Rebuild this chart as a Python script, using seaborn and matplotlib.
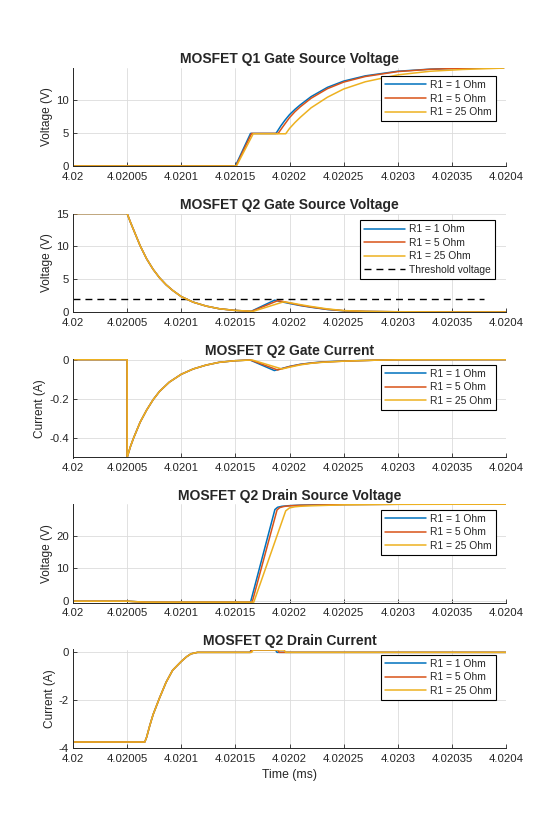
import matplotlib

matplotlib.use("Agg")

import matplotlib.pyplot as plt
import pandas as pd
import seaborn as sns

# simulation traces, time in ms
LABELS = ["R1 = 1 Ohm", "R1 = 5 Ohm", "R1 = 25 Ohm"]
COLORS = ["#0072BD", "#D95319", "#EDB120"]

# Q1 gate-source voltage
q1_t_r1 = [4.02, 4.02015, 4.020164, 4.0201875, 4.020192, 4.020196, 4.0202, 4.020205, 4.02021,
           4.02022, 4.020235, 4.02025, 4.02027, 4.0203, 4.02033, 4.02036, 4.020398]
q1_v_r1 = [0, 0, 4.95, 4.95, 6.1, 7.0, 7.8, 8.6, 9.3, 10.55, 11.95, 12.9, 13.7, 14.4, 14.72,
           14.87, 14.95]
q1_t_r5 = [4.02, 4.0201505, 4.020165, 4.0201895, 4.020194, 4.020198, 4.0202, 4.020205, 4.02021,
           4.02022, 4.020235, 4.02025, 4.02027, 4.0203, 4.02033, 4.02036, 4.020398]
q1_v_r5 = [0, 0, 4.95, 4.95, 6.0, 6.9, 7.35, 8.25, 9.0, 10.3, 11.75, 12.75, 13.6, 14.35, 14.7,
           14.86, 14.95]
q1_t_r25 = [4.02, 4.020151, 4.0201665, 4.0201965, 4.0202, 4.020205, 4.02021, 4.02022, 4.020235,
            4.02025, 4.02027, 4.0203, 4.02033, 4.02036, 4.020398]
q1_v_r25 = [0, 0, 4.9, 4.9, 5.7, 6.6, 7.4, 8.85, 10.45, 11.7, 12.8, 13.85, 14.4, 14.67, 14.88]

# Q2 gate-source voltage (shared discharge, then per-R1 bump)
vgs_t_head = [4.02, 4.02005, 4.020053, 4.020056, 4.020062, 4.020068, 4.020074, 4.02008, 4.020086,
              4.020092, 4.0201, 4.020111, 4.020123, 4.020135, 4.020149]
vgs_v_head = [15, 15, 13.7, 12.5, 10.1, 8.1, 6.5, 5.2, 4.15, 3.3, 2.35, 1.5, 0.9, 0.5, 0.25]
vgs_t_r1 = [4.0201645, 4.0201862, 4.02019, 4.0202, 4.02021, 4.02022, 4.020235, 4.02025, 4.02027,
            4.0203, 4.02035, 4.0204]
vgs_v_r1 = [0.1, 1.8, 1.65, 1.3, 0.98, 0.72, 0.38, 0.18, 0.08, 0.03, 0.005, 0]
vgs_t_r5 = [4.020165, 4.020189, 4.020192, 4.0202, 4.02021, 4.02022, 4.020235, 4.02025, 4.02027,
            4.0203, 4.02035, 4.0204]
vgs_v_r5 = [0.1, 1.72, 1.66, 1.38, 1.03, 0.76, 0.41, 0.2, 0.09, 0.03, 0.005, 0]
vgs_t_r25 = [4.0201665, 4.0201945, 4.0202, 4.02021, 4.02022, 4.020235, 4.02025, 4.02027, 4.0203,
             4.02035, 4.0204]
vgs_v_r25 = [0.1, 1.55, 1.42, 1.12, 0.84, 0.47, 0.22, 0.1, 0.04, 0.007, 0]
thr_t = [4.02, 4.02038]
thr_v = [2, 2]

# Q2 gate current
ig_t_head = [4.02, 4.02005, 4.02005, 4.020053, 4.020056, 4.020059, 4.020062, 4.020068, 4.020074,
             4.02008, 4.020089, 4.0201, 4.020111, 4.020123, 4.020135, 4.020149]
ig_v_head = [0, 0, -0.5, -0.445, -0.4, -0.36, -0.32, -0.258, -0.205, -0.162, -0.115, -0.075,
             -0.048, -0.028, -0.014, -0.006]
ig_t_r1 = [4.0201635, 4.020186, 4.02019, 4.0202, 4.02021, 4.02022, 4.02023, 4.02025, 4.02028,
           4.0203, 4.02035, 4.0204]
ig_v_r1 = [-0.002, -0.056, -0.05, -0.035, -0.024, -0.017, -0.012, -0.007, -0.003, -0.001, 0, 0]
ig_t_r5 = [4.020164, 4.020189, 4.020192, 4.0202, 4.02021, 4.02022, 4.02023, 4.02025, 4.02028,
           4.0203, 4.02035, 4.0204]
ig_v_r5 = [-0.002, -0.053, -0.048, -0.036, -0.025, -0.018, -0.013, -0.008, -0.003, -0.001, 0, 0]
ig_t_r25 = [4.0201655, 4.020193, 4.0202, 4.02021, 4.02022, 4.02023, 4.02025, 4.02028, 4.0203,
            4.02035, 4.0204]
ig_v_r25 = [-0.002, -0.048, -0.039, -0.027, -0.019, -0.014, -0.008, -0.003, -0.001, 0, 0]

# Q2 drain-source voltage
vds_t_head = [4.02, 4.02005, 4.020058, 4.020068]
vds_v_head = [-0.05, -0.05, -0.2, -0.35]
vds_t_r1 = [4.020164, 4.0201865, 4.020189, 4.020193, 4.0202, 4.02021, 4.02025, 4.0203, 4.0204]
vds_v_r1 = [-0.35, 28.0, 28.7, 29.0, 29.2, 29.35, 29.55, 29.63, 29.65]
vds_t_r5 = [4.0201655, 4.0201885, 4.020191, 4.020195, 4.0202, 4.02021, 4.02025, 4.0203, 4.0204]
vds_v_r5 = [-0.35, 27.9, 28.6, 28.95, 29.15, 29.3, 29.52, 29.62, 29.65]
vds_t_r25 = [4.020167, 4.0201965, 4.0202, 4.020205, 4.02021, 4.02022, 4.02025, 4.0203, 4.0204]
vds_v_r25 = [-0.35, 27.6, 28.5, 28.85, 29.0, 29.15, 29.45, 29.6, 29.65]

# Q2 drain current
id_t_head = [4.02, 4.0200663, 4.020068, 4.020071, 4.020074, 4.020077, 4.02008, 4.020086, 4.020092,
             4.0201, 4.020105, 4.020109, 4.020115]
id_v_head = [-3.75, -3.75, -3.55, -3.05, -2.6, -2.25, -1.9, -1.25, -0.75, -0.38, -0.18, -0.06, 0]
id_t_r1 = [4.0201635, 4.0201645, 4.020187, 4.0201885, 4.0204]
id_v_r1 = [0, 0.1, 0.1, 0, 0]
id_t_r5 = [4.020164, 4.020165, 4.020189, 4.0201905, 4.0204]
id_v_r5 = [0, 0.1, 0.1, 0, 0]
id_t_r25 = [4.020165, 4.0201665, 4.020195, 4.0201965, 4.0204]
id_v_r25 = [0, 0.1, 0.1, 0, 0]

XTICKS = [4.02, 4.02005, 4.0201, 4.02015, 4.0202, 4.02025, 4.0203, 4.02035, 4.0204]
XTICKLABELS = ["4.02", "4.02005", "4.0201", "4.02015", "4.0202", "4.02025", "4.0203", "4.02035", "4.0204"]

sns.set_theme(style="whitegrid")
plt.rcParams["font.family"] = ["Liberation Sans", "DejaVu Sans"]
plt.rcParams["axes.unicode_minus"] = False

LEGEND_KW = dict(loc="upper right", fontsize=7.4, frameon=True, fancybox=False, framealpha=1,
                 edgecolor="black", handlelength=4.0, handletextpad=0.4, labelspacing=0.35,
                 borderpad=0.4, borderaxespad=0)


def traces(series):
    frames = []
    for label, (t, v) in zip(LABELS, series):
        frames.append(pd.DataFrame({"t": t, "v": v, "R1": label}))
    return pd.concat(frames, ignore_index=True)


def panel(ax, df, title, ylabel, ylim, yticks, yticklabels, legend_top):
    sns.lineplot(data=df, x="t", y="v", hue="R1", hue_order=LABELS, palette=COLORS,
                 estimator=None, sort=False, linewidth=1.1, ax=ax)
    ax.set_xlim(4.02, 4.0204)
    ax.set_ylim(*ylim)
    ax.set_xticks(XTICKS, XTICKLABELS)
    ax.set_yticks(yticks, yticklabels)
    ax.set_title(title, fontsize=10, fontweight="bold", pad=3)
    ax.set_xlabel("")
    ax.set_ylabel(ylabel, fontsize=8.6, labelpad=2)
    ax.tick_params(axis="both", direction="in", length=3, width=0.6, labelsize=8.2,
                   colors="#262626", left=True, bottom=True)
    ax.tick_params(axis="x", pad=4)
    ax.tick_params(axis="y", pad=3)
    ax.grid(True, color="#dcdcdc", linewidth=0.6)
    ax.set_facecolor("white")
    for side in ("top", "right"):
        ax.spines[side].set_visible(False)
    for side in ("left", "bottom"):
        ax.spines[side].set_visible(True)
        ax.spines[side].set_color("#262626")
        ax.spines[side].set_linewidth(0.7)
    handles, labels = ax.get_legend_handles_labels()
    leg = ax.legend(handles, labels, bbox_to_anchor=(0.977, legend_top), **LEGEND_KW)
    leg.get_frame().set_linewidth(0.8)


fig = plt.figure(figsize=(5.6, 8.4), dpi=100)
W, H = 560, 840
left, width, height = 73, 433, 98.5
bottoms = [166, 312, 457.5, 602.5, 748]
axes = [fig.add_axes([left / W, 1 - b / H, width / W, height / H]) for b in bottoms]

panel(axes[0], traces([(q1_t_r1, q1_v_r1), (q1_t_r5, q1_v_r5), (q1_t_r25, q1_v_r25)]),
      "MOSFET Q1 Gate Source Voltage", "Voltage (V)", (0, 14.97), [0, 5, 10], ["0", "5", "10"], 0.914)

vgs = traces([(vgs_t_head + vgs_t_r1, vgs_v_head + vgs_v_r1),
              (vgs_t_head + vgs_t_r5, vgs_v_head + vgs_v_r5),
              (vgs_t_head + vgs_t_r25, vgs_v_head + vgs_v_r25)])
sns.lineplot(x=thr_t, y=thr_v, color="black", linewidth=1.0, dashes=False, ax=axes[1],
             label="Threshold voltage", zorder=1).lines[-1].set_dashes((5, 3.6))
panel(axes[1], vgs, "MOSFET Q2 Gate Source Voltage", "Voltage (V)", (0, 15),
      [0, 5, 10, 15], ["0", "5", "10", "15"], 0.934)
# keep the threshold entry last in the legend, as in the original
h, l = axes[1].get_legend_handles_labels()
order = [l.index(x) for x in LABELS] + [l.index("Threshold voltage")]
leg = axes[1].legend([h[i] for i in order], [l[i] for i in order],
                     bbox_to_anchor=(0.975, 0.934), **LEGEND_KW)
leg.get_frame().set_linewidth(0.8)

ig = traces([(ig_t_head + ig_t_r1, ig_v_head + ig_v_r1),
             (ig_t_head + ig_t_r5, ig_v_head + ig_v_r5),
             (ig_t_head + ig_t_r25, ig_v_head + ig_v_r25)])
panel(axes[2], ig, "MOSFET Q2 Gate Current", "Current (A)", (-0.5, 0.003),
      [-0.4, -0.2, 0], ["-0.4", "-0.2", "0"], 0.944)

vds = traces([(vds_t_head + vds_t_r1, vds_v_head + vds_v_r1),
              (vds_t_head + vds_t_r5, vds_v_head + vds_v_r5),
              (vds_t_head + vds_t_r25, vds_v_head + vds_v_r25)])
panel(axes[3], vds, "MOSFET Q2 Drain Source Voltage", "Voltage (V)", (-0.45, 29.7),
      [0, 10, 20], ["0", "10", "20"], 0.943)

idr = traces([(id_t_head + id_t_r1, id_v_head + id_v_r1),
              (id_t_head + id_t_r5, id_v_head + id_v_r5),
              (id_t_head + id_t_r25, id_v_head + id_v_r25)])
panel(axes[4], idr, "MOSFET Q2 Drain Current", "Current (A)", (-4, 0.12),
      [-4, -2, 0], ["-4", "-2", "0"], 0.949)
axes[4].set_xlabel("Time (ms)", fontsize=8.8, labelpad=4)

fig.savefig("out.png", dpi=100, facecolor="white")
